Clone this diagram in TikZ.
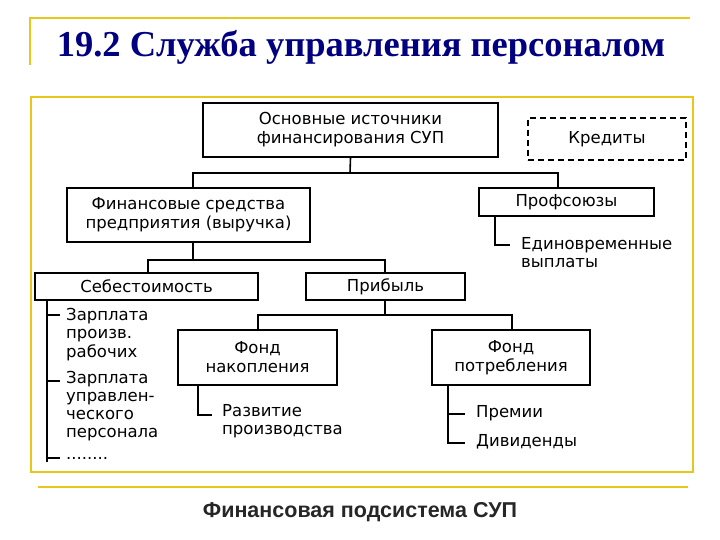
\documentclass[tikz,border=0pt]{standalone}
\usepackage{fontspec}
\setmainfont{DejaVu Sans}
\newfontfamily\titlefont{Liberation Serif}
\newfontfamily\capfont{Liberation Sans}
\begin{document}
\begin{tikzpicture}[x=1pt,y=-1pt,
  box/.style={draw,line width=1.6pt,align=center,inner sep=0pt,font=\fontsize{16.5}{19}\selectfont},
  lbl/.style={anchor=north west,align=left,inner sep=0pt,font=\fontsize{16.5}{18.5}\selectfont},
  ln/.style={line width=1.6pt},
  gold/.style={draw=yellow!75!orange!90!black,line width=1.5pt}]
\useasboundingbox (0,0) rectangle (720,540);
\draw[gold] (30,65) -- (30,18) -- (690,18);
\node[font=\titlefont\bfseries\fontsize{36.5}{40}\selectfont,text=blue!50!black] (title) at (361,47) {19.2 Служба управления персоналом};
\draw[gold,line width=2pt] (31,97) rectangle (693,472);
\draw[gold] (38,487) -- (688,487);
\node[font=\capfont\bfseries\fontsize{21.5}{24}\selectfont,text=black!85] (cap) at (360,512) {Финансовая подсистема СУП};

\node[box,minimum width=295pt,minimum height=54pt] (top) at (350.5,130) {Основные источники\\финансирования СУП};
\node[box,dashed,dash pattern=on 6pt off 4pt,line width=2.4pt,minimum width=158pt,minimum height=42pt] (kred) at (607,139) {Кредиты};
\node[box,minimum width=243pt,minimum height=54pt] (fin) at (188.5,215) {Финансовые средства\\предприятия (выручка)};
\node[box,minimum width=175pt,minimum height=28pt] (prof) at (566.5,202) {Профсоюзы};
\node[box,minimum width=223pt,minimum height=27pt] (seb) at (146.5,286.5) {Себестоимость};
\node[box,minimum width=159pt,minimum height=27pt] (prib) at (385.5,286.5) {Прибыль};
\node[box,minimum width=159pt,minimum height=55pt] (nak) at (257.5,357.5) {Фонд\\накопления};
\node[box,minimum width=158pt,minimum height=55pt] (potr) at (511,357.5) {Фонд\\потребления};

\draw[ln] (top.south) -- (350,173) -| (fin.north -| 193,0);
\draw[ln] (350,173) -| (prof.north -| 558,0);
\draw[ln] (fin.south -| 193,0) -- (193,260) -| (seb.north -| 148,0);
\draw[ln] (193,260) -| (prib.north -| 385,0);
\draw[ln] (prib.south -| 385,0) -- (385,315) -| (nak.north -| 258,0);
\draw[ln] (385,315) -| (potr.north -| 512,0);

\coordinate (s0) at (47,462);
\draw[ln] (seb.south -| 47,0) -- (s0);
\draw[ln] (47,315) -- (60,315);
\draw[ln] (47,381) -- (60,381);
\draw[ln] (47,458) -- (60,458);
\node[lbl] (z1) at (66,308) {Зарплата\\произв.\\рабочих};
\node[lbl,font=\fontsize{16.5}{18}\selectfont] (z2) at (66,371) {Зарплата\\управлен-\\ческого\\персонала};
\node[lbl,anchor=base west] (z3) at (66,459) {........};

\draw[ln] (prof.south -| 495,0) -- (495,245) -- (510,245);
\node[lbl] (ed) at (521,237) {Единовременные\\выплаты};

\draw[ln] (nak.south -| 198,0) -- (198,415) -- (212,415);
\node[lbl] (raz) at (222,404) {Развитие\\производства};

\draw[ln] (potr.south -| 448,0) -- (448,443) -- (465,443);
\draw[ln] (448,414) -- (465,414);
\node[lbl] (pr) at (476,405) {Премии};
\node[lbl] (div) at (476,434) {Дивиденды};
\end{tikzpicture}
\end{document}
